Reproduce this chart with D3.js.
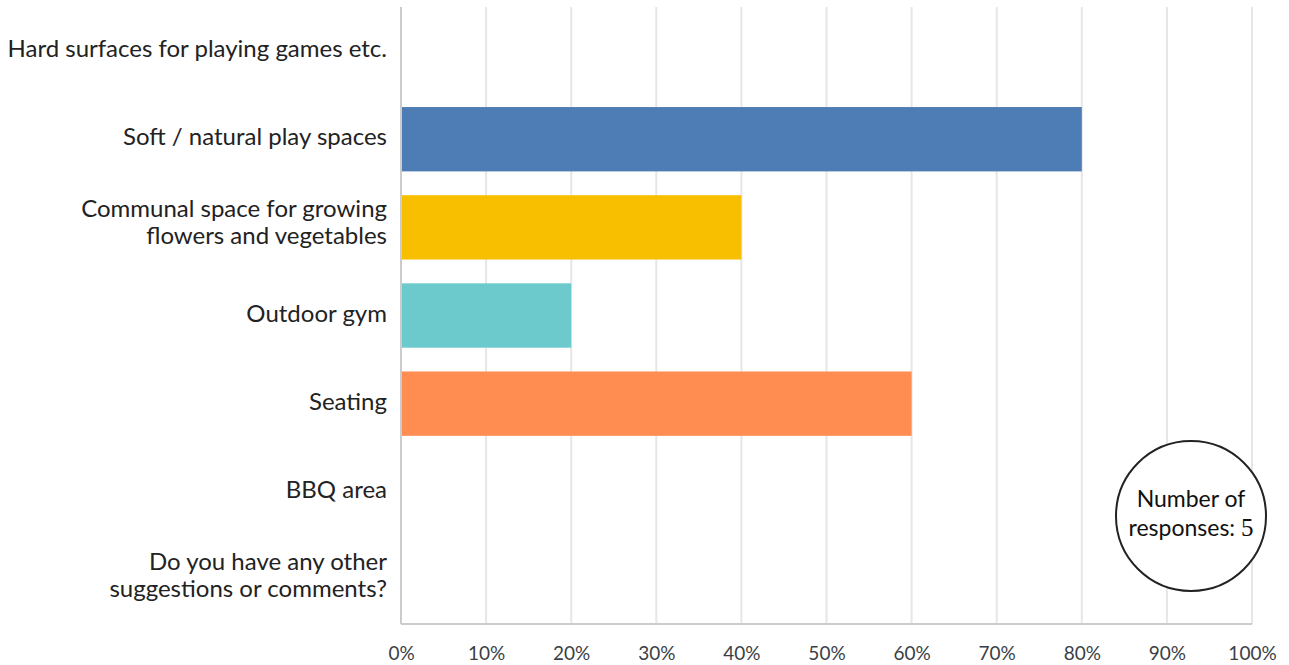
<!DOCTYPE html>
<html>
<head>
<meta charset="utf-8">
<script src="https://cdn.jsdelivr.net/npm/d3@7"></script>
<style>
  body { margin: 0; background: #fff; }
  svg text { font-family: Lato, "Open Sans", sans-serif; }
</style>
</head>
<body>
<div id="canvas"></div>
<script>
"use strict"

// answers, top to bottom
let categories = [
    ["Hard surfaces for playing games etc."],
    ["Soft / natural play spaces"],
    ["Communal space for growing", "flowers and vegetables"],
    ["Outdoor gym"],
    ["Seating"],
    ["BBQ area"],
    ["Do you have any other", "suggestions or comments?"]
];
let percentages = [0, 80, 40, 20, 60, 0, 0];
let barColours = ["#4e7db5", "#4e7db5", "#f8bf00", "#6cc9cc", "#ff8c51", "#4e7db5", "#4e7db5"];
let tickValues = [0, 10, 20, 30, 40, 50, 60, 70, 80, 90, 100];
let responses = 5;

let drawing = d3.select("#canvas")
    .append("svg")
    .attr("width", 1289)
    .attr("height", 665);

let plotLeft = 401, plotRight = 1252, plotTop = 7, plotBottom = 624;

let x = d3.scaleLinear()
    .domain([0, 100])
    .range([plotLeft, plotRight]);

let y = d3.scaleBand()
    .domain(d3.range(categories.length))
    .range([plotTop, plotBottom])
    .paddingInner(0.27)
    .paddingOuter(0.135);

// grid lines
drawing.append("g")
    .selectAll("line")
    .data(tickValues.slice(1))
    .join("line")
    .attr("x1", d => x(d))
    .attr("x2", d => x(d))
    .attr("y1", plotTop)
    .attr("y2", plotBottom)
    .attr("stroke", "#e6e6e6")
    .attr("stroke-width", 2);

// bars
drawing.append("g")
    .selectAll("rect")
    .data(percentages)
    .join("rect")
    .attr("x", x(0))
    .attr("y", (d, i) => y(i))
    .attr("width", d => x(d) - x(0))
    .attr("height", y.bandwidth())
    .attr("fill", (d, i) => barColours[i]);

// axis lines
drawing.append("line")
    .attr("x1", plotLeft)
    .attr("x2", plotLeft)
    .attr("y1", plotTop)
    .attr("y2", plotBottom)
    .attr("stroke", "#cccccc")
    .attr("stroke-width", 2);

drawing.append("line")
    .attr("x1", plotLeft)
    .attr("x2", plotRight)
    .attr("y1", plotBottom)
    .attr("y2", plotBottom)
    .attr("stroke", "#cccccc")
    .attr("stroke-width", 2);

// x axis tick labels
let xAxis = drawing.append("g")
    .attr("transform", "translate(0," + plotBottom + ")")
    .call(d3.axisBottom(x).tickValues(tickValues).tickFormat(d => d + "%").tickSize(0).tickPadding(0));
xAxis.select(".domain").remove();
xAxis.selectAll("text")
    .attr("y", 36)
    .attr("dy", null)
    .attr("font-size", 19)
    .attr("fill", "#3a3f46")
    .attr("font-family", "Lato, sans-serif");

// category labels
let labels = drawing.append("g")
    .selectAll("text")
    .data(categories)
    .join("text")
    .attr("x", 387)
    .attr("y", (d, i) => y(i) + y.bandwidth() / 2)
    .attr("text-anchor", "end")
    .attr("font-size", 24)
    .attr("fill", "#222222");

labels.selectAll("tspan")
    .data(d => d.map((line, j) => ({ line: line, j: j, n: d.length })))
    .join("tspan")
    .attr("x", 387)
    .attr("dy", d => d.j === 0 ? (d.n === 1 ? "6px" : "-10px") : "27px")
    .text(d => d.line);

// response count bubble
let bubble = drawing.append("g")
    .attr("transform", "translate(1191,516)");

bubble.append("circle")
    .attr("r", 75)
    .attr("fill", "white")
    .attr("stroke", "#222222")
    .attr("stroke-width", 2);

bubble.append("text")
    .attr("y", -9)
    .attr("text-anchor", "middle")
    .attr("font-size", 23)
    .attr("fill", "#111111")
    .text("Number of");

let countLine = bubble.append("text")
    .attr("y", 20)
    .attr("text-anchor", "middle")
    .attr("font-size", 23)
    .attr("fill", "#111111");
countLine.append("tspan").text("responses: ");
countLine.append("tspan")
    .attr("font-family", "'Liberation Serif', 'DejaVu Serif', serif")
    .attr("font-size", 25)
    .text(responses);
</script>
</body>
</html>
